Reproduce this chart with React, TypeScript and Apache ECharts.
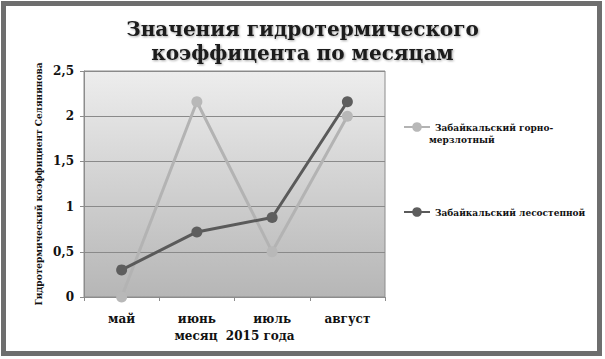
import React, { useEffect, useRef } from "react";
import * as echarts from "echarts";

const categories = ["май", "июнь", "июль", "август"];
const seriesNames = ["Забайкальский горно-мерзлотный", "Забайкальский лесостепной"];
const mountainValues = [0, 2.16, 0.5, 2.0];
const steppeValues = [0.3, 0.72, 0.88, 2.16];
const yTicks = ["0", "0,5", "1", "1,5", "2", "2,5"];

const titleText = "Значения гидротермического\nкоэффицента по месяцам";
const yName = "Гидротермический коэффициент Селянинова";
const xName = "месяц  2015 года";

const SERIF = "DejaVu Serif";
const COND = "'DejaVu Serif Condensed', 'DejaVu Serif'";

export default function App() {
  const ref = useRef<HTMLDivElement>(null);
  useEffect(() => {
    if (!ref.current) return;
    const chart = echarts.init(ref.current, undefined, { renderer: "svg" });
    chart.setOption({
      animation: false,
      backgroundColor: "#ffffff",
      textStyle: { fontFamily: SERIF },
      title: {
        text: titleText,
        left: "center",
        top: 12,
        textStyle: {
          fontFamily: SERIF,
          fontSize: 20,
          fontWeight: "bold",
          color: "#1a1a1a",
          lineHeight: 24,
          textShadowColor: "rgba(0,0,0,0.35)",
          textShadowBlur: 2,
          textShadowOffsetX: 1,
          textShadowOffsetY: 1,
        },
      },
      grid: {
        left: 84,
        right: 220,
        top: 71,
        bottom: 62,
        show: true,
        borderColor: "#8c8c8c",
        borderWidth: 1,
        backgroundColor: new echarts.graphic.LinearGradient(0, 0, 0, 1, [
          { offset: 0, color: "#ededed" },
          { offset: 1, color: "#b6b6b6" },
        ]),
      },
      xAxis: {
        type: "category",
        data: categories,
        boundaryGap: true,
        name: xName,
        nameLocation: "middle",
        nameGap: 32,
        nameTextStyle: { fontFamily: SERIF, fontSize: 12, fontWeight: "bold", color: "#111" },
        axisLine: { lineStyle: { color: "#8c8c8c" } },
        axisTick: { show: true, length: 4, lineStyle: { color: "#8c8c8c" } },
        axisLabel: { fontFamily: SERIF, fontSize: 12, fontWeight: "bold", color: "#111", margin: 16 },
      },
      yAxis: {
        type: "value",
        min: 0,
        max: 2.5,
        interval: 0.5,
        name: yName,
        nameLocation: "middle",
        nameRotate: 90,
        nameGap: 41,
        nameTextStyle: { fontFamily: COND, fontSize: 10, fontWeight: "bold", color: "#111" },
        axisLine: { show: true, lineStyle: { color: "#8c8c8c" } },
        axisTick: { show: true, length: 4, lineStyle: { color: "#8c8c8c" } },
        axisLabel: {
          fontFamily: SERIF,
          fontSize: 12,
          fontWeight: "bold",
          color: "#111",
          margin: 10,
          formatter: (v: number) => yTicks[Math.round(v / 0.5)] ?? String(v),
        },
        splitLine: { lineStyle: { color: "#8a8a8a", width: 1 } },
      },
      legend: [
        {
          data: [seriesNames[0]],
          left: 398,
          top: 116,
          itemWidth: 26,
          itemHeight: 12,
          itemGap: 4,
          formatter: () => "Забайкальский горно-",
          textStyle: { fontFamily: COND, fontSize: 10, fontWeight: "bold", color: "#111", lineHeight: 12 },
        },
        {
          data: [seriesNames[1]],
          left: 398,
          top: 201,
          itemWidth: 26,
          itemHeight: 12,
          textStyle: { fontFamily: COND, fontSize: 10, fontWeight: "bold", color: "#111", lineHeight: 12 },
        },
      ],
      graphic: [
        {
          type: "text",
          left: 429,
          top: 134,
          style: { text: "мерзлотный", font: "bold 10px " + COND, fill: "#111" },
        },
        {
          type: "rect",
          shape: { x: 3.5, y: 3.5, width: 596, height: 350 },
          style: { fill: "none", stroke: "#6e6e6e", lineWidth: 5 },
          silent: true,
        },
      ],
      series: [
        {
          name: seriesNames[0],
          type: "line",
          data: mountainValues,
          symbol: "circle",
          symbolSize: 11,
          lineStyle: { color: "#b3b3b3", width: 3 },
          itemStyle: { color: "#b8b8b8" },
        },
        {
          name: seriesNames[1],
          type: "line",
          data: steppeValues,
          symbol: "circle",
          symbolSize: 11,
          lineStyle: { color: "#5a5a5a", width: 3 },
          itemStyle: { color: "#5e5e5e" },
        },
      ],
    });
    return () => chart.dispose();
  }, []);
  return (
    <div
      ref={ref}
      style={{ position: "fixed", left: 0, top: 0, width: 605, height: 359 }}
    />
  );
}
